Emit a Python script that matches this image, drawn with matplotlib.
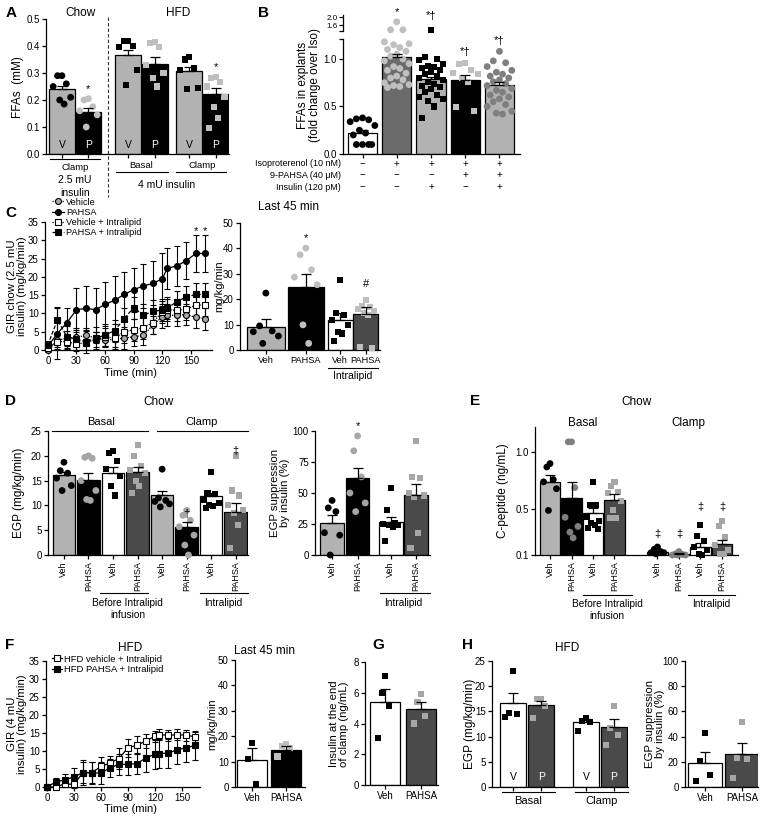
import numpy as np
import matplotlib
matplotlib.use('Agg')
import matplotlib.pyplot as plt
from matplotlib.lines import Line2D

plt.rcParams['font.family'] = ['Liberation Sans', 'DejaVu Sans']
plt.rcParams['axes.linewidth'] = 0.9

W, H = 764, 816
fig = plt.figure(figsize=(W / 100, H / 100), dpi=100)

LG = '#b2b2b2'   # light gray bar
DG = '#4a4a4a'   # dark gray bar
MB = '#6b6b6b'   # medium bar
PL = '#bfbfbf'   # light gray points
PM = '#a6a6a6'   # mid gray points
PD = '#7f7f7f'   # darker gray points

# ======================= DATA =======================
# Panel A
a_labels = ['V', 'P', 'V', 'P', 'V', 'P']
a_means = [0.240, 0.157, 0.365, 0.335, 0.308, 0.222]
a_sems = [0.012, 0.012, 0.022, 0.025, 0.015, 0.022]
a_pts = [[0.29, 0.29, 0.26, 0.25, 0.21, 0.20, 0.185],
         [0.205, 0.20, 0.175, 0.16, 0.145, 0.10],
         [0.418, 0.418, 0.40, 0.395, 0.31, 0.255],
         [0.415, 0.41, 0.395, 0.33, 0.30, 0.28, 0.25],
         [0.36, 0.35, 0.32, 0.31, 0.245, 0.24],
         [0.285, 0.28, 0.265, 0.25, 0.21, 0.175, 0.135, 0.095]]
a_sig = ['', '*', '', '', '', '*']
a_sig_y = [0, 0.24, 0, 0, 0, 0.322]

# Panel B
b_means = [0.22, 1.02, 0.785, 0.78, 0.725]
b_sems = [0.03, 0.03, 0.025, 0.05, 0.035]
b_pts = [[0.38, 0.37, 0.36, 0.34, 0.30, 0.25, 0.22, 0.20, 0.10, 0.10, 0.10, 0.10],
         [1.76, 1.36, 1.36, 1.18, 1.16, 1.15, 1.12, 1.10, 1.08, 1.05, 1.03, 1.0, 0.98, 0.95,
          0.92, 0.90, 0.88, 0.85, 0.82, 0.80, 0.78, 0.75, 0.73, 0.72, 0.71, 0.70],
         [1.36, 1.02, 1.0, 0.99, 0.95, 0.93, 0.92, 0.90, 0.88, 0.86, 0.84, 0.82, 0.80, 0.78,
          0.76, 0.74, 0.72, 0.70, 0.68, 0.65, 0.62, 0.60, 0.58, 0.56, 0.50, 0.38],
         [0.96, 0.95, 0.88, 0.85, 0.84, 0.80, 0.76, 0.49, 0.45],
         [1.08, 0.98, 0.96, 0.92, 0.88, 0.86, 0.84, 0.82, 0.80, 0.78, 0.76, 0.74, 0.72,
          0.69, 0.67, 0.65, 0.62, 0.60, 0.58, 0.55, 0.52, 0.50, 0.45, 0.43, 0.42]]
b_sig = ['', '*', '*†', '*†', '*†']
b_sig_y = [0, 2.25, 2.04, 1.07, 1.19]
b_rows = ['Isoproterenol (10 nM)', '9-PAHSA (40 μM)', 'Insulin (120 pM)']
b_table = [['−', '+', '+', '+', '+'],
           ['−', '−', '−', '+', '+'],
           ['−', '−', '+', '−', '+']]

# Panel C (time course)
c_time = [0, 10, 20, 30, 40, 50, 60, 70, 80, 90, 100, 110, 120, 125, 135, 145, 155, 165]
c_veh = [0, 2.7, 3.2, 3.5, 4.0, 3.3, 2.7, 2.9, 3.3, 3.6, 4.0, 6.8, 9.1, 9.5, 9.5, 9.7, 8.9, 8.6]
c_veh_err = [0.5, 2, 2, 2, 2, 1.5, 2, 2.5, 3, 2.5, 2.5, 2.5, 3, 3, 3, 3, 3, 3]
c_pahsa = [1, 4.5, 7.5, 11, 11.4, 11, 12.5, 13.6, 15.2, 16.5, 17.5, 18.2, 19.5, 22.3, 23, 24.4, 26.4, 26.4]
c_pahsa_err = [1, 7, 4, 6, 6, 6, 6, 6.5, 6, 6, 6, 6, 7, 5.5, 5.5, 5, 5, 5]
c_vehil = [0.5, 2.3, 2.3, 1.6, 2.0, 2.9, 3.6, 3.2, 5.0, 5.5, 6.1, 7.5, 10.5, 10.9, 10.9, 11.1, 12.3, 12.3]
c_vehil_err = [0.5, 2, 2, 2, 2, 2, 2.5, 2.5, 3, 3, 3, 3, 3, 3, 3, 3, 3, 3]
c_pahsail = [1.4, 8.2, 3.6, 2.9, 2.3, 3.2, 4.1, 5.3, 8.6, 11.6, 9.5, 10.6, 10.9, 11.4, 13.2, 14.5, 15.2, 15.2]
c_pahsail_err = [1, 3.5, 3, 3, 3, 3, 3, 3, 3, 3, 3, 3, 3, 3, 3, 3, 3, 3]
c_legend = ['Vehicle', 'PAHSA', 'Vehicle + Intralipid', 'PAHSA + Intralipid']
c_sig_t = [155, 165]
c_sig_y = [32.5, 32.5]

# Panel C right (last 45 min)
c2_labels = ['Veh', 'PAHSA', 'Veh', 'PAHSA']
c2_means = [9.2, 24.7, 11.8, 14.1]
c2_sems = [2.9, 5.3, 2.7, 2.7]
c2_pts = [[22.4, 9.5, 7.5, 7.2, 5.5, 2.6],
          [40.1, 37.5, 31.6, 28.7, 25.7, 9.9, 2.6],
          [27.6, 14.5, 13.8, 11.8, 9.9, 7.2, 6.5, 3.7],
          [19.5, 17.4, 17.1, 16.0, 15.5, 14.5, 13.8, 1.3, 0.7]]
c2_sig = ['', '*', '', '#']
c2_sig_y = [0, 44, 0, 26]

# Panel D left
d_labels = ['Veh', 'PAHSA'] * 4
d_means = [16.2, 15.2, 16.6, 16.7, 12.0, 5.7, 11.8, 8.7]
d_sems = [0.6, 1.3, 1.1, 1.0, 1.0, 1.0, 0.8, 1.7]
d_pts = [[18.7, 17.0, 16.5, 15.5, 14.0, 13.0],
         [20.0, 19.7, 19.5, 15.0, 13.0, 11.2, 11.0],
         [21.0, 20.5, 19.0, 17.3, 16.0, 14.0, 12.0],
         [22.2, 20.0, 18.0, 17.2, 16.5, 15.0, 14.0, 12.5],
         [17.3, 11.5, 11.0, 10.8, 10.3, 9.7],
         [9.0, 8.0, 7.0, 5.7, 4.0, 2.0, 0.0],
         [16.7, 12.5, 12.3, 11.0, 10.5, 10.0, 9.8, 9.5],
         [20.0, 13.0, 12.0, 10.0, 9.0, 8.5, 6.0, 1.5]]
d_sig = ['', '', '', '', '', '†', '', '‡']
d_sig_y = [0, 0, 0, 0, 0, 8.3, 0, 21.0]

# Panel D right
d2_labels = ['Veh', 'PAHSA', 'Veh', 'PAHSA']
d2_means = [25.5, 62.0, 26.5, 48.0]
d2_sems = [6.5, 8.5, 4.5, 9.0]
d2_pts = [[44, 38, 35, 18, 16, 0],
          [96, 84, 63, 50, 42, 35],
          [54, 36, 26, 25, 24, 24, 23, 11],
          [92, 63, 62, 50, 48, 47, 18, 6]]
d2_sig = ['', '*', '', '']
d2_sig_y = [0, 104, 0, 0]

# Panel E
e_labels = ['Veh', 'PAHSA'] * 4
e_means = [0.74, 0.60, 0.47, 0.585, 0.13, 0.11, 0.17, 0.195]
e_sems = [0.06, 0.14, 0.045, 0.045, 0.008, 0.004, 0.035, 0.04]
e_pts = [[0.90, 0.87, 0.76, 0.74, 0.68, 0.49],
         [1.09, 1.09, 0.69, 0.43, 0.35, 0.30, 0.25],
         [0.74, 0.54, 0.535, 0.43, 0.40, 0.38, 0.36, 0.34, 0.33],
         [0.74, 0.70, 0.65, 0.64, 0.57, 0.49, 0.42, 0.42],
         [0.17, 0.15, 0.13, 0.12, 0.12, 0.11],
         [0.13, 0.11, 0.105, 0.10, 0.10, 0.10],
         [0.36, 0.27, 0.22, 0.17, 0.14, 0.11, 0.10],
         [0.40, 0.35, 0.26, 0.19, 0.14, 0.11, 0.105]]
e_sig = ['', '', '', '', '‡', '‡', '‡', '‡']
e_sig_y = [0, 0, 0, 0, 0.28, 0.28, 0.52, 0.52]

# Panel F (time course)
f_time = [0, 10, 20, 30, 40, 50, 60, 70, 80, 90, 100, 110, 120, 125, 135, 145, 155, 165]
f_veh = [0, 0, 0.9, 0.7, 4.0, 4.0, 5.7, 6.7, 7.9, 10.9, 11.6, 12.8, 14.1, 14.5, 14.4, 14.5, 14.4, 13.9]
f_veh_err = [0, 0.5, 1, 1, 3.5, 3, 2.5, 2, 3, 2.5, 2.5, 2, 1.5, 1.5, 1.5, 1.5, 1.5, 1.5]
f_pahsa = [0, 1.4, 2.0, 2.8, 4.0, 3.9, 3.9, 5.3, 6.3, 6.3, 6.5, 8.1, 9.1, 9.3, 9.4, 10.4, 10.9, 11.6]
f_pahsa_err = [0.5, 1, 1.5, 2.5, 3, 3, 3, 2.5, 3, 3, 3, 4, 4, 4, 4, 4, 4, 4]
f_legend = ['HFD vehicle + Intralipid', 'HFD PAHSA + Intralipid']

# Panel F right
f2_labels = ['Veh', 'PAHSA']
f2_means = [10.5, 14.5]
f2_sems = [5.0, 1.5]
f2_pts = [[17.5, 11.0, 1.0], [17.0, 16.0, 15.5, 12.0]]

# Panel G
g_labels = ['Veh', 'PAHSA']
g_means = [5.43, 4.96]
g_sems = [0.83, 0.43]
g_pts = [[7.1, 6.0, 5.15, 3.05], [5.9, 5.4, 4.5, 4.0]]

# Panel H left
h_labels = ['V', 'P', 'V', 'P']
h_means = [16.6, 16.2, 12.8, 12.0]
h_sems = [2.0, 0.9, 0.6, 1.5]
h_pts = [[23.0, 14.6, 14.4, 13.9], [17.5, 17.4, 16.0, 13.7],
         [13.7, 13.1, 12.9, 11.1], [16.1, 11.7, 10.4, 8.3]]

# Panel H right
h2_labels = ['Veh', 'PAHSA']
h2_means = [19.3, 26.0]
h2_sems = [8.5, 9.0]
h2_pts = [[43, 20.6, 9.3, 4.8], [51.6, 23.3, 22, 7.4]]

# ======================= HELPERS =======================
PATTERN = np.array([0, -0.5, 0.5, -1.0, 1.0, -0.25, 0.25, -0.75, 0.75])


def offsets(vals, spread):
    vals = np.asarray(vals, float)
    order = np.argsort(-vals, kind='stable')
    off = np.zeros(len(vals))
    off[order] = spread * PATTERN[np.arange(len(vals)) % len(PATTERN)]
    return off


def add_ax(l, t, r, b):
    ax = fig.add_axes([l / W, 1 - b / H, (r - l) / W, (b - t) / H])
    ax._img = (l, t, r, b)
    for s in ['top', 'right']:
        ax.spines[s].set_visible(False)
    ax.tick_params(direction='out', length=3, width=0.9, labelsize=7, pad=1.5)
    ax.set_facecolor('none')
    return ax


def ay(ax, Y):
    l, t, r, b = ax._img
    return (b - Y) / (b - t)


def hline(ax, x0, x1, Y, lw=0.8):
    ax.plot([x0, x1], [ay(ax, Y)] * 2, color='black', lw=lw,
            transform=ax.get_xaxis_transform(), clip_on=False)


def ltext(ax, x, Y, s, size=7, **kw):
    ax.text(x, ay(ax, Y), s, transform=ax.get_xaxis_transform(),
            ha=kw.pop('ha', 'center'), va=kw.pop('va', 'center'), fontsize=size, **kw)


def ftext(X, Y, s, size=8.5, **kw):
    fig.text(X / W, 1 - Y / H, s, fontsize=size, ha=kw.pop('ha', 'center'),
             va=kw.pop('va', 'center'), **kw)


def scat(ax, x, y, m, c):
    if len(y) == 0:
        return
    ax.scatter(x, y, marker=m, s=(24 if m == 'o' else 19), c=c, edgecolors='none',
               zorder=3, clip_on=False)


def bar_panel(ax, pos, means, sems, colors, widths, pts, pcols, pmarks, spread,
              top_ax=None, thresh=None):
    pos = np.asarray(pos, float)
    spreads = np.broadcast_to(np.asarray(spread, float), pos.shape)
    ax.bar(pos, means, width=widths, color=colors, edgecolor='black', linewidth=0.9, zorder=2)
    for p, v, c, m, sp in zip(pos, pts, pcols, pmarks, spreads):
        v = np.asarray(v, float)
        xo = p + offsets(v, sp)
        if top_ax is not None:
            lo = v <= thresh
            scat(ax, xo[lo], v[lo], m, c)
            scat(top_ax, xo[~lo], v[~lo], m, c)
        else:
            scat(ax, xo, v, m, c)
    ax.errorbar(pos, means, yerr=[np.zeros(len(means)), sems], fmt='none', ecolor='black',
                elinewidth=0.9, capsize=3.5, capthick=0.9, zorder=4)


def sig(ax, pos, labels, ys, size=8):
    for p, s, y in zip(pos, labels, ys):
        if s:
            ax.text(p, y, s, ha='center', va='center', fontsize=size, clip_on=False)


def letter(X, Y, s):
    ftext(X, Y, s, size=11, weight='bold', ha='left')


# ======================= PANEL A =======================
axA = add_ax(46, 19, 229, 154)
a_pos = [0, 1, 2.5, 3.5, 4.8, 5.8]
bar_panel(axA, a_pos, a_means, a_sems, [LG, 'black'] * 3, 0.97, a_pts,
          ['black', PL] * 3, ['o', 'o', 's', 's', 's', 's'], 0.33)
axA.set_xlim(-0.6, 6.3)
axA.set_ylim(0, 0.5)
axA.set_yticks([0, 0.1, 0.2, 0.3, 0.4, 0.5])
axA.set_yticklabels(['0.0', '0.1', '0.2', '0.3', '0.4', '0.5'])
axA.set_xticks(a_pos)
axA.set_xticklabels([])
for p, lab in zip(a_pos, a_labels):
    axA.text(p, 0.033, lab, ha='center', va='center', fontsize=7.5,
             color='black' if lab == 'V' else 'white', zorder=5)
sig(axA, a_pos, a_sig, a_sig_y)
axA.plot([1.74, 1.74], [ay(axA, 17), ay(axA, 197)], transform=axA.get_xaxis_transform(),
         color='#333333', lw=0.8, ls=(0, (3, 2)), clip_on=False)
hline(axA, -0.45, 1.42, 159)
ltext(axA, 0.5, 167, 'Clamp', 6.8)
ltext(axA, 0.5, 180, '2.5 mU', 7.5)
ltext(axA, 0.5, 193, 'insulin', 7.5)
ltext(axA, 3.0, 166, 'Basal', 6.8)
hline(axA, 2.05, 4.0, 172)
ltext(axA, 5.3, 166, 'Clamp', 6.8)
hline(axA, 4.3, 6.2, 172)
ltext(axA, 3.95, 185, '4 mU insulin', 7.5)
ftext(18, 87, 'FFAs  (mM)', rotation=90)
ftext(80, 13, 'Chow')
ftext(178, 13, 'HFD')
letter(6, 13, 'A')

# ======================= PANEL B =======================
axB = add_ax(343, 39, 520, 154)
axBt = add_ax(343, 15, 520, 31)
b_pos = np.arange(5)
bar_panel(axB, b_pos, b_means, b_sems, ['white', MB, LG, 'black', LG], 0.85, b_pts,
          ['black', PL, 'black', PL, PD], ['o', 'o', 's', 's', 'o'], 0.36,
          top_ax=axBt, thresh=1.25)
for a in (axB, axBt):
    a.set_xlim(-0.57, 4.6)
axB.set_ylim(0, 1.21)
axB.set_yticks([0, 0.5, 1.0])
axB.set_yticklabels(['0.0', '0.5', '1.0'])
axB.set_yticks([1.21], minor=True)
axB.tick_params(which='minor', length=3, width=0.9)
axB.set_xticks(b_pos)
axB.set_xticklabels([])
axBt.set_ylim(1.3, 2.1)
axBt.set_yticks([1.6, 2.0])
axBt.set_yticklabels(['1.6', '2.0'], fontsize=5.8)
axBt.tick_params(axis='y', pad=0.5)
axBt.set_yticks([1.3], minor=True)
axBt.tick_params(which='minor', length=3, width=0.9)
axBt.spines['bottom'].set_visible(False)
axBt.set_xticks([])
for p, s, y in zip(b_pos, b_sig, b_sig_y):
    if s:
        (axBt if y > 1.25 else axB).text(p, y, s, ha='center', va='center', fontsize=8,
                                         clip_on=False)
for r, (lab, row) in enumerate(zip(b_rows, b_table)):
    Y = [164, 175, 187][r]
    ftext(341, Y, lab, size=6.5, ha='right')
    for p, s in zip(b_pos, row):
        ltext(axB, p, Y, s, 7)
ftext(309, 85, 'FFAs in explants\n(fold change over Iso)', rotation=90, linespacing=1.05)
letter(258, 13, 'B')

# ======================= PANEL C =======================
axC = add_ax(45, 222, 212, 350)
styles = [('o', '#a8a8a8', (0, (1, 1))), ('o', 'black', '-'),
          ('s', 'white', (0, (1, 1))), ('s', 'black', (0, (3, 1.5)))]
c_series = [(c_veh, c_veh_err), (c_pahsa, c_pahsa_err), (c_vehil, c_vehil_err),
            (c_pahsail, c_pahsail_err)]
handles = []
for (m, e), (mk, fc, ls), lab in zip(c_series, styles, c_legend):
    axC.errorbar(c_time, m, yerr=e, marker=mk, linestyle=ls, color='black', mfc=fc,
                 mec='black', ms=4.3, mew=0.8, lw=0.9, elinewidth=0.8, capsize=2.5,
                 capthick=0.8, clip_on=False, zorder=3)
    handles.append(Line2D([], [], marker=mk, linestyle=ls, color='black', mfc=fc,
                          mec='black', ms=4.3, mew=0.8, lw=0.9))
axC.set_xlim(-3, 172)
axC.set_ylim(0, 35)
axC.set_xticks([0, 30, 60, 90, 120, 150])
axC.set_yticks(range(0, 36, 5))
for t, y in zip(c_sig_t, c_sig_y):
    axC.text(t, y, '*', ha='center', va='center', fontsize=8)
axC.legend(handles, c_legend, loc='upper left', bbox_to_anchor=(0.04, 1.19), frameon=False,
           fontsize=6.6, handlelength=1.3, handletextpad=0.3, labelspacing=0.12,
           borderpad=0, borderaxespad=0)
ftext(130, 373, 'Time (min)', size=8)
ftext(17, 286, 'GIR chow (2.5 mU\ninsulin) (mg/kg/min)', rotation=90, linespacing=1.0, size=8.2)
letter(5, 213, 'C')

axC2 = add_ax(240, 223, 380, 350)
c2_pos = [0, 1.05, 1.95, 2.63]
bar_panel(axC2, c2_pos, c2_means, c2_sems, [LG, 'black', 'white', DG], [1.0, 0.95, 0.66, 0.66],
          c2_pts, ['black', PL, 'black', PL], ['o', 'o', 's', 's'], [0.33, 0.3, 0.22, 0.22])
axC2.set_xlim(-0.68, 3.0)
axC2.set_ylim(0, 50)
axC2.set_yticks(range(0, 51, 10))
axC2.set_xticks(c2_pos)
axC2.set_xticklabels(c2_labels, fontsize=6.6)
sig(axC2, c2_pos, c2_sig, c2_sig_y)
hline(axC2, 1.62, 2.96, 368)
ltext(axC2, 2.29, 376, 'Intralipid', 7.5)
ftext(288, 207, 'Last 45 min')
ftext(219, 286, 'mg/kg/min', rotation=90, size=8)

# ======================= PANEL D =======================
axD = add_ax(48, 431, 248, 555)
d_pos = np.arange(8)
bar_panel(axD, d_pos, d_means, d_sems, [LG, 'black', 'white', DG] * 2, 0.92, d_pts,
          ['black', PM, 'black', PM] * 2, ['o', 'o', 's', 's'] * 2, 0.3)
axD.set_xlim(-0.65, 7.5)
axD.set_ylim(0, 25)
axD.set_yticks(range(0, 26, 5))
axD.set_xticks(d_pos)
axD.set_xticklabels(d_labels, rotation=90, fontsize=6.5)
sig(axD, d_pos, d_sig, d_sig_y)
hline(axD, -0.49, 3.43, 431)
hline(axD, 3.8, 7.5, 431)
ltext(axD, 1.5, 422, 'Basal', 8)
ltext(axD, 5.6, 422, 'Clamp', 8)
hline(axD, 1.47, 3.43, 593)
ltext(axD, 2.6, 603, 'Before Intralipid', 7.3)
ltext(axD, 2.6, 615, 'infusion', 7.3)
hline(axD, 5.55, 7.5, 593)
ltext(axD, 6.5, 603, 'Intralipid', 7.3)
ftext(158, 402, 'Chow')
ftext(19, 493, 'EGP (mg/kg/min)', rotation=90)
letter(5, 401, 'D')

axD2 = add_ax(315, 431, 430, 555)
d2_pos = [0, 1, 2.3, 3.3]
bar_panel(axD2, d2_pos, d2_means, d2_sems, [LG, 'black', 'white', DG], 0.93, d2_pts,
          ['black', PM, 'black', PM], ['o', 'o', 's', 's'], 0.3)
axD2.set_xlim(-0.67, 3.84)
axD2.set_ylim(0, 100)
axD2.set_yticks([0, 25, 50, 75, 100])
axD2.set_xticks(d2_pos)
axD2.set_xticklabels(d2_labels, rotation=90, fontsize=6.5)
sig(axD2, d2_pos, d2_sig, d2_sig_y)
hline(axD2, 1.88, 3.84, 593)
ltext(axD2, 2.8, 603, 'Intralipid', 7.3)
ftext(280, 493, 'EGP suppression\nby insulin (%)', rotation=90, linespacing=1.0, size=8.2)

# ======================= PANEL E =======================
axE = add_ax(535, 427, 738, 555)
e_pos = [0, 1, 2, 3, 5, 6, 7, 8]
bar_panel(axE, e_pos, e_means, e_sems, [LG, 'black', 'white', DG] * 2, 0.95, e_pts,
          ['black', PD, 'black', PM] * 2, ['o', 'o', 's', 's'] * 2, 0.3)
axE.set_xlim(-0.7, 8.75)
axE.set_ylim(0.1, 1.22)
axE.set_yticks([0.1, 0.5, 1.0])
axE.set_yticklabels(['0.1', '0.5', '1.0'])
axE.set_xticks(e_pos)
axE.set_xticklabels(e_labels, rotation=90, fontsize=6.5)
sig(axE, e_pos, e_sig, e_sig_y)
hline(axE, 1.53, 3.81, 595)
ltext(axE, 2.65, 604, 'Before Intralipid', 7.3)
ltext(axE, 2.65, 616, 'infusion', 7.3)
hline(axE, 6.4, 8.6, 595)
ltext(axE, 7.5, 604, 'Intralipid', 7.3)
ftext(637, 402, 'Chow')
ftext(583, 423, 'Basal')
ftext(688, 423, 'Clamp')
ftext(503, 491, 'C-peptide (ng/mL)', rotation=90)
letter(470, 401, 'E')

# ======================= PANEL F =======================
axF = add_ax(46, 661, 200, 787)
f_series = [(f_veh, f_veh_err, 'white'), (f_pahsa, f_pahsa_err, 'black')]
fh = []
for m, e, fc in f_series:
    axF.errorbar(f_time, m, yerr=e, marker='s', linestyle='-', color='black', mfc=fc,
                 mec='black', ms=4.3, mew=0.8, lw=0.9, elinewidth=0.8, capsize=2.5,
                 capthick=0.8, clip_on=False, zorder=3)
    fh.append(Line2D([], [], marker='s', linestyle='-', color='black', mfc=fc, mec='black',
                     ms=4.3, mew=0.8, lw=0.9))
axF.set_xlim(-1, 170)
axF.set_ylim(0, 35)
axF.set_xticks([0, 30, 60, 90, 120, 150])
axF.set_yticks(range(0, 36, 5))
axF.legend(fh, f_legend, loc='upper left', bbox_to_anchor=(0.04, 1.05), frameon=False,
           fontsize=6.8, handlelength=1.0, handletextpad=0.3, labelspacing=0.15,
           borderpad=0, borderaxespad=0)
ftext(130, 648, 'HFD')
ftext(130, 809, 'Time (min)', size=8)
ftext(17, 724, 'GIR (4 mU\ninsulin) (mg/kg/min)', rotation=90, linespacing=1.0, size=8.2)
letter(5, 645, 'F')

axF2 = add_ax(235, 660, 305, 787)
f2_pos = [0, 1]
bar_panel(axF2, f2_pos, f2_means, f2_sems, ['white', 'black'], 0.88, f2_pts,
          ['black', PL], ['s', 's'], 0.25)
axF2.set_xlim(-0.5, 1.56)
axF2.set_ylim(0, 50)
axF2.set_yticks(range(0, 51, 10))
axF2.set_xticks(f2_pos)
axF2.set_xticklabels(f2_labels, fontsize=7)
ftext(265, 651, 'Last 45 min')
ftext(212, 724, 'mg/kg/min', rotation=90, size=8)

# ======================= PANEL G =======================
axG = add_ax(365, 662, 438, 785)
g_pos = [0, 1]
bar_panel(axG, g_pos, g_means, g_sems, ['white', DG], 0.85, g_pts,
          ['black', PM], ['s', 's'], 0.2)
axG.set_xlim(-0.56, 1.47)
axG.set_ylim(0, 8)
axG.set_yticks([0, 2, 4, 6, 8])
axG.set_xticks(g_pos)
axG.set_xticklabels(g_labels, fontsize=7)
ftext(339, 724, 'Insulin at the end\nof clamp (ng/mL)', rotation=90, linespacing=1.0, size=8.2)
letter(372, 645, 'G')

# ======================= PANEL H =======================
axH = add_ax(492, 661, 628, 787)
h_pos = [0, 1, 2.6, 3.6]
bar_panel(axH, h_pos, h_means, h_sems, ['white', DG, 'white', DG], 0.92, h_pts,
          ['black', PM, 'black', PM], ['s', 's', 's', 's'], 0.28)
axH.set_xlim(-0.75, 4.1)
axH.set_ylim(0, 25)
axH.set_yticks(range(0, 26, 5))
axH.set_xticks(h_pos)
axH.set_xticklabels([])
for p, lab in zip(h_pos, h_labels):
    axH.text(p, 2.0, lab, ha='center', va='center', fontsize=7.5,
             color='black' if lab == 'V' else 'white', zorder=5)
hline(axH, -0.4, 1.5, 792)
ltext(axH, 0.55, 801, 'Basal', 8)
hline(axH, 2.2, 4.1, 792)
ltext(axH, 3.15, 801, 'Clamp', 8)
ftext(567, 648, 'HFD')
ftext(470, 724, 'EGP (mg/kg/min)', rotation=90)
letter(462, 645, 'H')

axH2 = add_ax(685, 661, 758, 787)
h2_pos = [0, 1]
bar_panel(axH2, h2_pos, h2_means, h2_sems, ['white', DG], 0.92, h2_pts,
          ['black', PM], ['s', 's'], 0.25)
axH2.set_xlim(-0.54, 1.43)
axH2.set_ylim(0, 100)
axH2.set_yticks(range(0, 101, 20))
axH2.set_xticks(h2_pos)
axH2.set_xticklabels(h2_labels, fontsize=7)
ftext(655, 724, 'EGP suppression\nby insulin (%)', rotation=90, linespacing=1.0, size=8.2)

fig.savefig('out.png', dpi=100)
